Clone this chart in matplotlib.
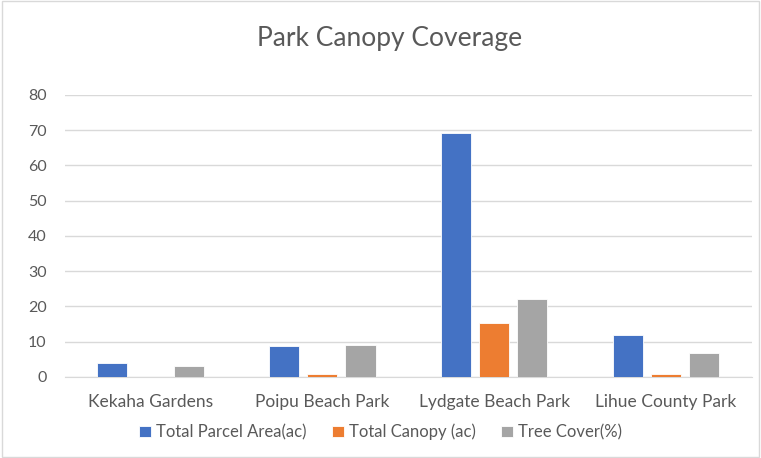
import matplotlib
matplotlib.use("Agg")
import matplotlib.pyplot as plt
import numpy as np

categories = ["Kekaha Gardens", "Poipu Beach Park", "Lydgate Beach Park", "Lihue County Park"]
parcel_area = [3.9, 8.8, 69.1, 11.9]
canopy = [0.0, 0.8, 15.2, 0.8]
tree_cover = [3.0, 9.1, 22.0, 6.9]
series_names = ["Total Parcel Area(ac)", "Total Canopy (ac)", "Tree Cover(%)"]
colors = ["#4472C4", "#ED7D31", "#A5A5A5"]
yticks = [0, 10, 20, 30, 40, 50, 60, 70, 80]

plt.rcParams['font.family'] = ['Lato', 'DejaVu Sans']

fig = plt.figure(figsize=(7.61, 4.58), dpi=100)
ax = fig.add_axes([0.085, 0.177, 0.903, 0.616])

x = np.arange(len(categories))
w = 0.175
step = 0.222
for i, (vals, name, c) in enumerate(zip([parcel_area, canopy, tree_cover], series_names, colors)):
    ax.bar(x + (i - 1) * step, vals, width=w, color=c, edgecolor="white", linewidth=0.6, label=name, zorder=3)

ax.set_xlim(-0.5, len(categories) - 0.5)
ax.set_ylim(0, 80)
ax.set_yticks(yticks)
ax.set_xticks(x)
ax.set_xticklabels(categories, fontsize=12.5, color="#595959")
ax.tick_params(axis="y", labelsize=11.5, colors="#595959", length=0, pad=13)
ax.tick_params(axis="x", length=0, pad=12)
ax.grid(axis="y", color="#D9D9D9", linewidth=1.0, zorder=0)
for s in ["top", "right", "left"]:
    ax.spines[s].set_visible(False)
ax.spines["bottom"].set_color("#D9D9D9")

fig.text(0.512, 0.915, "Park Canopy Coverage", ha="center", va="center", fontsize=19, color="#595959")

leg = fig.legend(loc="center", bbox_to_anchor=(0.5, 0.057), ncol=3, frameon=False,
                 fontsize=12, handlelength=0.7, handleheight=0.7, handletextpad=0.3, columnspacing=1.55)
for t in leg.get_texts():
    t.set_color("#595959")

border = plt.Rectangle((0.003, 0.003), 0.994, 0.994, transform=fig.transFigure, fill=False,
                       edgecolor="#D9D9D9", linewidth=1)
fig.patches.append(border)

fig.savefig("out.png", dpi=100)
